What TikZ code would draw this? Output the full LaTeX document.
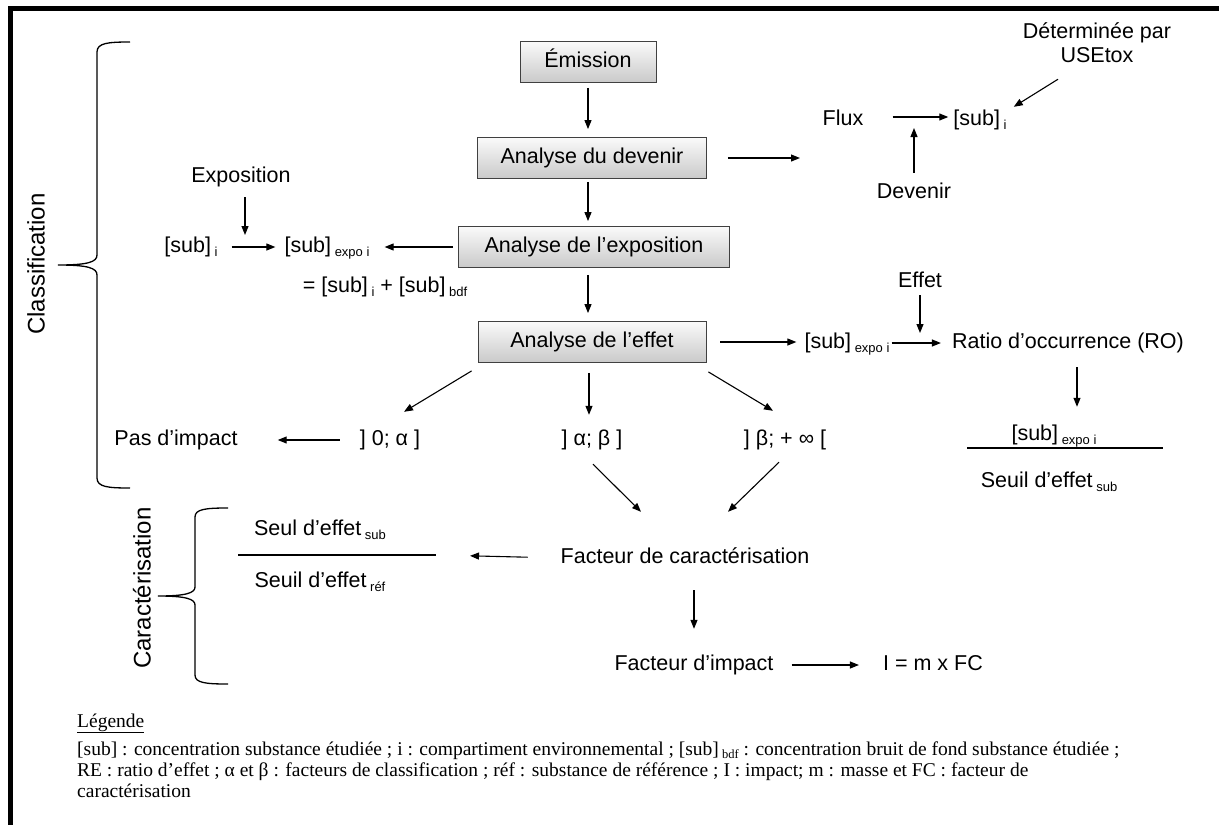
\documentclass[tikz,border=0pt]{standalone}
\usepackage{fontspec}
\setmainfont{Liberation Sans}
\newfontfamily\legfont{Liberation Serif}
\usetikzlibrary{arrows.meta,calc}

% small lowered index, as in [sub] expo i
\newcommand{\sbx}[1]{\,{\fontsize{13}{13}\selectfont\raisebox{-4pt}{#1}}}
\newcommand{\sbl}[1]{\,{\fontsize{12.5}{12.5}\selectfont\raisebox{-3pt}{#1}}}

\begin{document}
\begin{tikzpicture}[x=1pt,y=-1pt,
  font=\fontsize{21.5}{25}\selectfont,
  lbl/.style={inner sep=0pt,text height=15.5pt,text depth=4.5pt},
  stepbox/.style={draw=black!75,line width=0.9pt,top color=gray!4,bottom color=gray!42,
    minimum height=41pt,inner sep=0pt,text height=15.5pt,text depth=4.5pt},
  arr/.style={-{Triangle[length=9pt,width=7pt]},line width=1.1pt},
  brc/.style={line width=1.3pt},
  side/.style={rotate=90,inner sep=0pt,font=\fontsize{24}{24}\selectfont},
  leg/.style={anchor=base west,inner sep=0pt,font=\legfont\fontsize{19.5}{24}\selectfont}]
\useasboundingbox (0,0) rectangle (1219,825);

% frame (top and left edges)
\draw[line width=5pt] (10.5,825) -- (10.5,8) -- (1219,8);

% main chain of analyses
\node[stepbox,minimum width=136pt] (emis) at (588,62) {Émission};
\node[stepbox,minimum width=229pt] (dev)  at (592,158) {Analyse du devenir};
\node[stepbox,minimum width=271pt] (expo) at (594,247) {Analyse de l’exposition};
\node[stepbox,minimum width=228pt] (eff)  at (592,342) {Analyse de l’effet};

\draw[arr,shorten <=5pt,shorten >=8pt] (emis.south) -- (emis.south |- dev.north);
\draw[arr,shorten <=3pt,shorten >=5pt] (emis.south |- dev.south) -- (emis.south |- expo.north);
\draw[arr,shorten <=7pt,shorten >=8pt] (emis.south |- expo.south) -- (emis.south |- eff.north);

% fate: flux towards [sub]_i
\coordinate (fluxin) at (800,158);
\draw[arr,shorten <=21pt] (dev.east) -- (fluxin);
\node[lbl] (flux) at (843,120) {Flux};
\node[lbl] (subi) at (980,120) {[sub]\sbx{i}};
\node[inner sep=0pt,align=center,font=\fontsize{21.5}{24}\selectfont] (usetox) at (1097,43) {Déterminée par\\USEtox};
\node[lbl] (devn) at (914,193) {Devenir};
\coordinate (fluxmid) at (914,117);
\draw[arr,shorten <=29pt,shorten >=5pt] ([yshift=3pt]flux.east) -- ([yshift=3pt]subi.west);
\draw[arr,shorten <=10pt,shorten >=11pt] (devn.north) -- (fluxmid);
\draw[arr] ($(usetox.south)+(-39,16)$) -- ($(subi.north east)+(7,-3)$);

% exposure
\node[lbl] (expolbl) at (241,177) {Exposition};
\node[lbl] (subi2) at (191,247) {[sub]\sbx{i}};
\node[lbl] (subexpo) at (327,247) {[sub]\sbx{expo i}};
\node[lbl] (sumeq) at (385,287) {= [sub]\sbx{i} + [sub]\sbx{bdf}};
\coordinate (expmid) at (245,247);
\draw[arr,shorten <=10pt,shorten >=12pt] (expolbl.south -| expmid) -- (expmid);
\draw[arr,shorten <=14pt,shorten >=9pt] (subi2.east) -- (subexpo.west);
\draw[arr,shorten <=5pt,shorten >=15pt] (expo.west) -- (subexpo.east);

% effect: occurrence ratio
\node[lbl] (effetlbl) at (920,282) {Effet};
\node[lbl] (subexpo2) at (847,343) {[sub]\sbx{expo i}};
\node[lbl] (ratio) at (1068,343) {Ratio d’occurrence (RO)};
\coordinate (ratiomid) at (920,343);
\draw[arr,shorten <=14pt,shorten >=8pt] (eff.east) -- (eff.east -| subexpo2.west);
\draw[arr,shorten <=2pt,shorten >=11pt] (subexpo2.east) -- (ratio.west);
\draw[arr,shorten <=3pt,shorten >=10pt] (effetlbl.south) -- (ratiomid);
\node[lbl] (num) at (1054,435) {[sub]\sbx{expo i}};
\node[lbl] (den) at (1049,482) {Seuil d’effet\sbx{sub}};
\draw[line width=1.3pt] (967,448) -- (1163,448);
\draw[arr,shorten <=14pt,shorten >=18pt] ([xshift=9pt]ratio.south) -- ([xshift=9pt]ratio.south |- num.north);

% classes of the occurrence ratio
\node[lbl] (pas) at (176,440) {Pas d’impact};
\node[lbl] (r1) at (390,440) {] 0; α ]};
\node[lbl] (r2) at (592,440) {] α; β ]};
\node[lbl] (r3) at (785,440) {] β; + ∞ [};
\draw[arr] ($(eff.south west)+(-6,8)$) -- ($(r1.north)+(14,-18)$);
\draw[arr,shorten <=10pt,shorten >=15pt] ([xshift=-3pt]eff.south) -- ([xshift=-3pt]eff.south |- r2.north);
\draw[arr] ($(eff.south east)+(2,9)$) -- ($(r3.north)+(-12,-19)$);
\draw[arr,shorten <=20pt,shorten >=40pt] (r1.west) -- (pas.east);

% characterisation
\node[lbl] (fc) at (685,558) {Facteur de caractérisation};
\draw[arr] ($(r2.south)+(1,14)$) -- ($(fc.north)+(-44,-36)$);
\draw[arr] ($(r3.south)+(-6,12)$) -- ($(fc.north)+(43,-36)$);
\node[lbl] (seul) at (320,530) {Seul d’effet\sbx{sub}};
\node[lbl] (seuilref) at (320,582) {Seuil d’effet\sbx{réf}};
\coordinate (barR) at (436,555);
\draw[line width=1.3pt] (238,555) -- (barR);
\draw[arr,shorten <=33pt,shorten >=34pt] (fc.west) -- (barR);
\node[lbl] (fi) at (694,665) {Facteur d’impact};
\node[lbl] (imp) at (933,665) {I = m x FC};
\draw[arr,shorten <=22pt,shorten >=26pt] (fc.south -| fi.north) -- (fi.north);
\draw[arr,shorten <=18pt,shorten >=24pt] (fi.east) -- (imp.west);

% braces and their labels
\draw[brc] (130,42) .. controls (108,42) and (97,43) .. (97,52) -- (97,255)
  .. controls (97,262) and (88,265) .. (58,265)
  .. controls (88,265) and (97,268) .. (97,275) -- (97,478)
  .. controls (97,487) and (108,488) .. (130,488);
\node[side] (clas) at (36,264) {Classification};
\draw[brc] (228,508) .. controls (206,508) and (195,509) .. (195,517) -- (195,587)
  .. controls (195,593) and (186,596) .. (158,596)
  .. controls (186,596) and (195,599) .. (195,605) -- (195,675)
  .. controls (195,683) and (206,684) .. (228,684);
\node[side] (cara) at (142,588) {Caractérisation};

% legend
\node[leg] (leg0) at (77,727) {\underline{Légende}};
\node[leg] (leg1) at (77,755) {[sub] : concentration substance étudiée ; i : compartiment environnemental ; [sub]\sbl{bdf} : concentration bruit de fond substance étudiée ;};
\node[leg] (leg2) at (77,776) {RE : ratio d’effet ; α et β : facteurs de classification ; réf : substance de référence ; I : impact; m : masse et FC : facteur de};
\node[leg] (leg3) at (77,797) {caractérisation};
\end{tikzpicture}
\end{document}
